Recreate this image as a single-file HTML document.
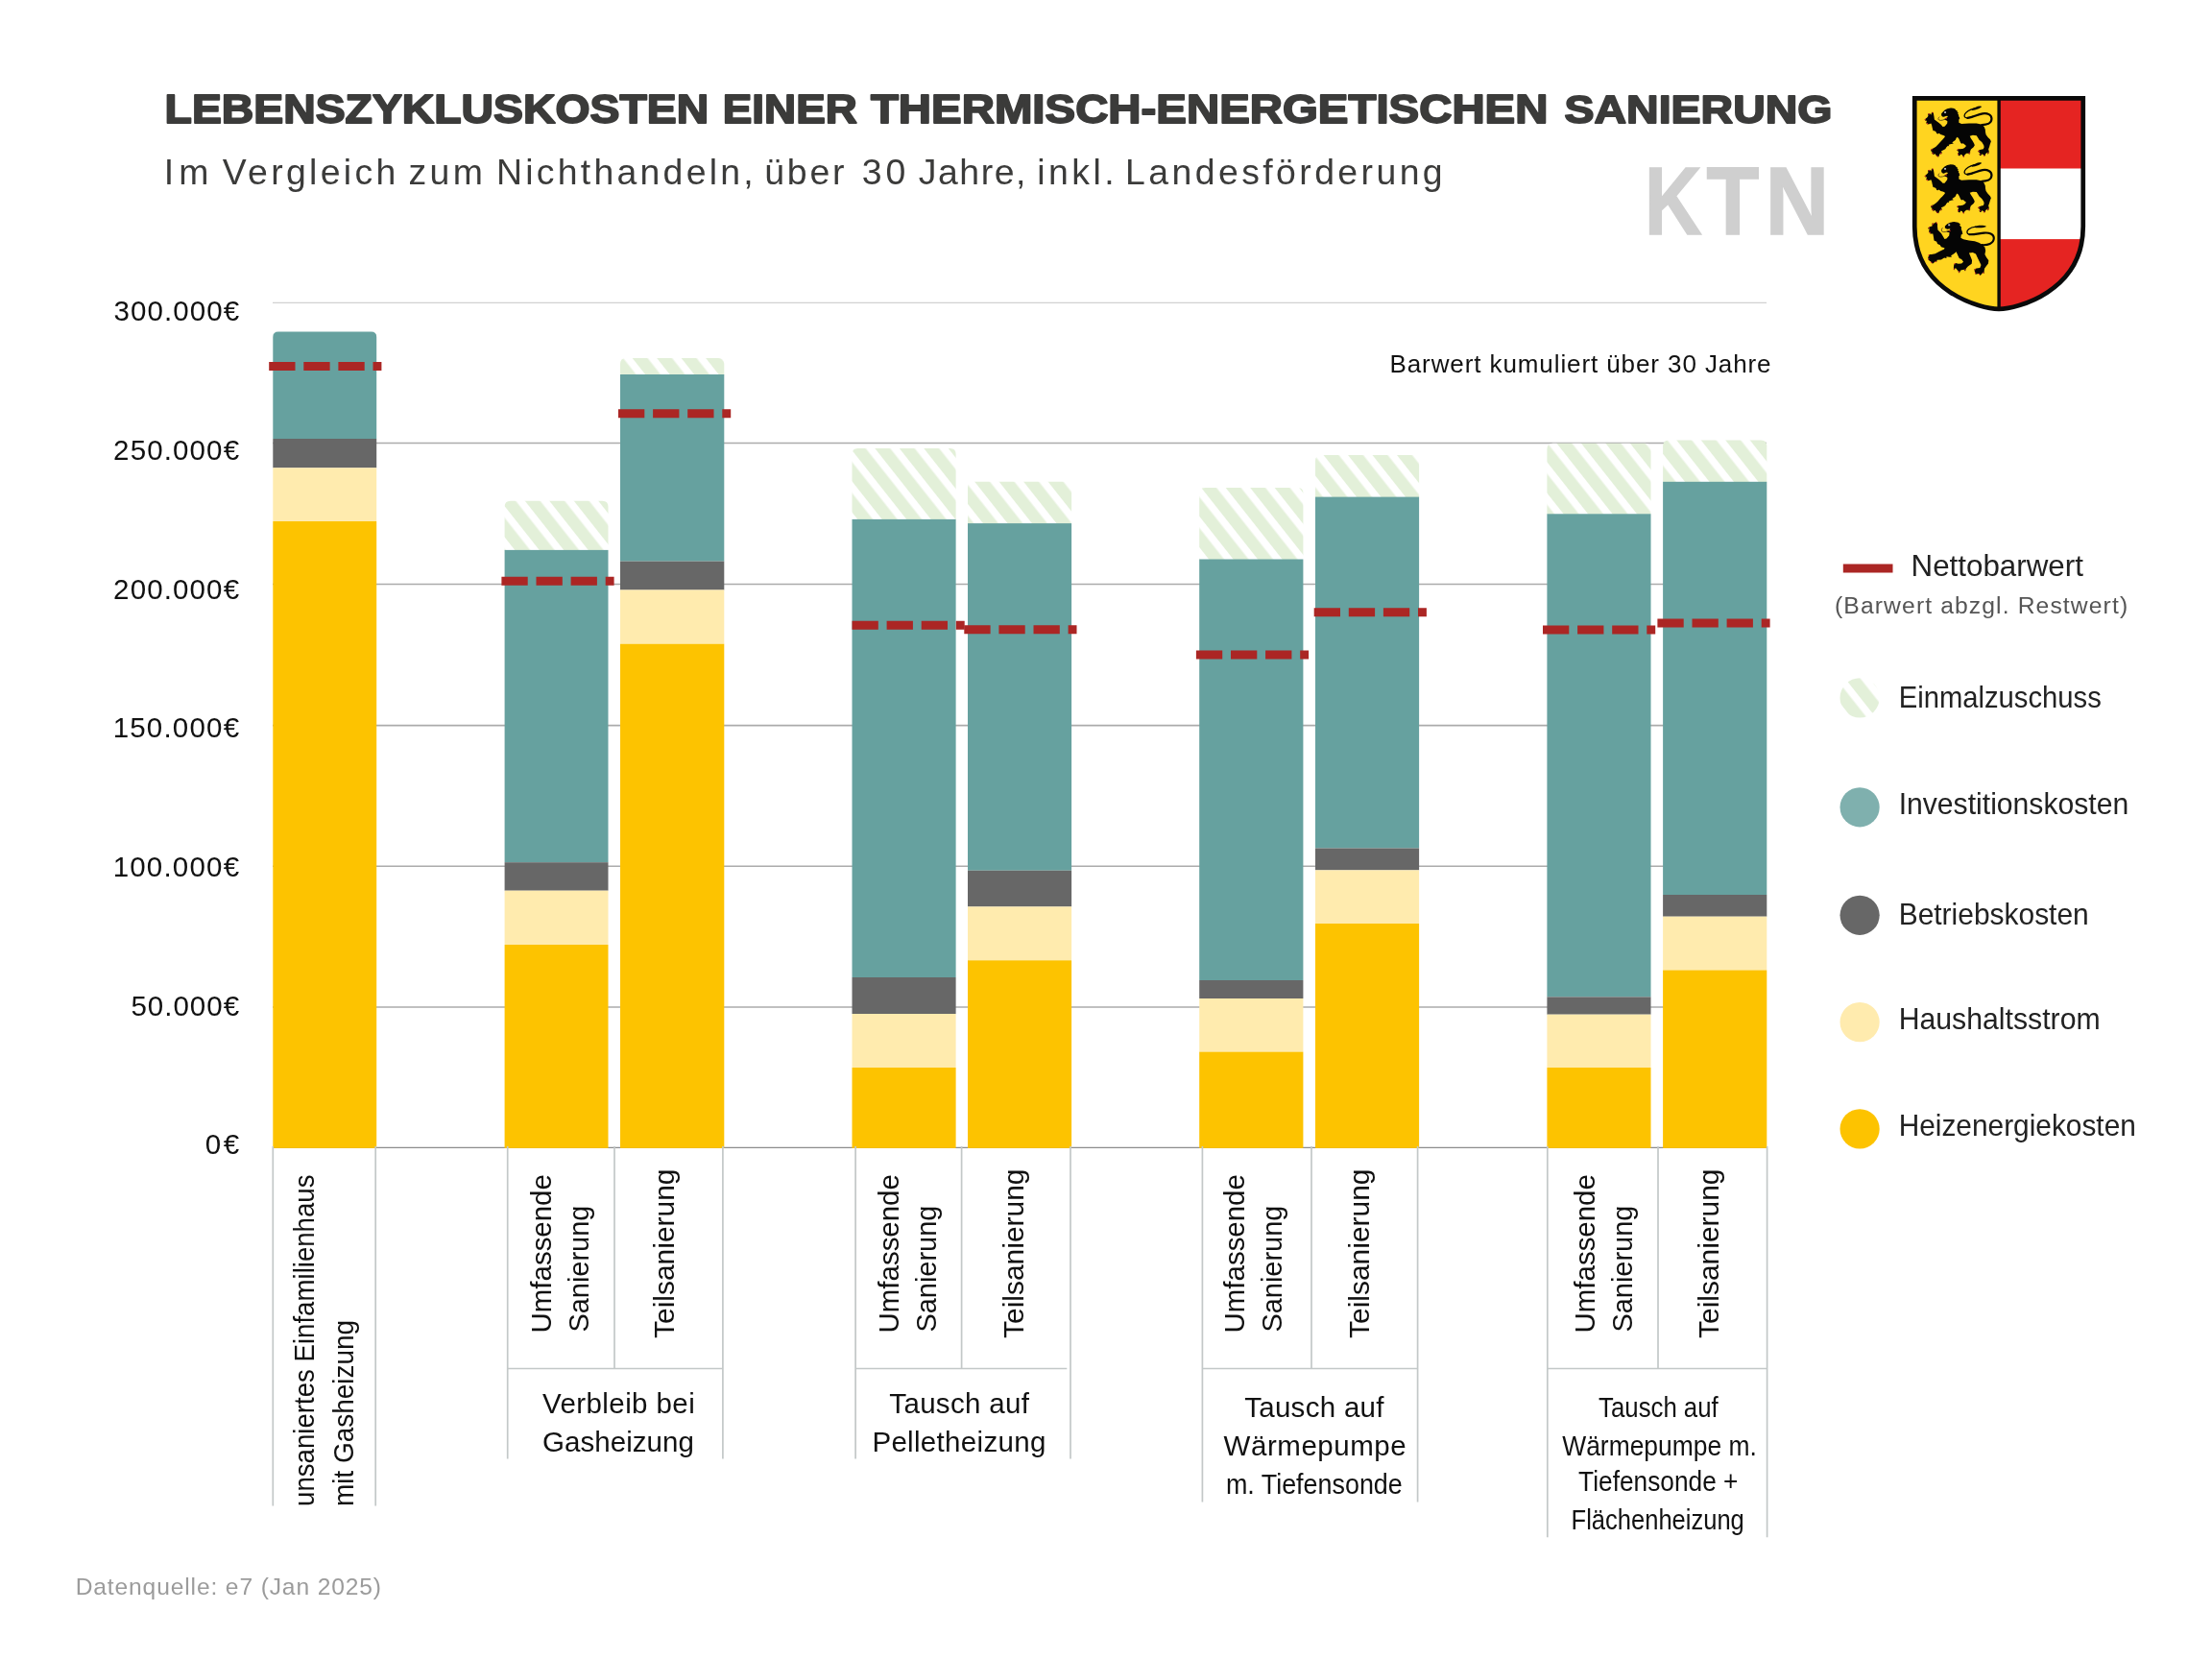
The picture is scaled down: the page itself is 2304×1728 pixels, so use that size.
<!DOCTYPE html>
<html lang="de"><head><meta charset="utf-8"><title>Lebenszykluskosten KTN</title>
<style>html,body{margin:0;padding:0;background:#fff}svg{display:block;will-change:transform}text{font-family:"Liberation Sans",sans-serif;white-space:pre}</style>
</head><body>
<svg width="2304" height="1728" viewBox="0 0 2304 1728">
<defs>
<pattern id="h0" width="20" height="20" patternUnits="userSpaceOnUse" patternTransform="translate(13.0,0) rotate(-38.3)"><rect width="20" height="20" fill="#fff"/><rect x="0" y="0" width="12.5" height="20" fill="#E3F0D9"/></pattern>
<pattern id="h1" width="20" height="20" patternUnits="userSpaceOnUse" patternTransform="translate(7.3,0) rotate(-38.3)"><rect width="20" height="20" fill="#fff"/><rect x="0" y="0" width="12.5" height="20" fill="#E3F0D9"/></pattern>
<pattern id="h2" width="20" height="20" patternUnits="userSpaceOnUse" patternTransform="translate(7.3,0) rotate(-38.3)"><rect width="20" height="20" fill="#fff"/><rect x="0" y="0" width="12.5" height="20" fill="#E3F0D9"/></pattern>
<pattern id="h3" width="20" height="20" patternUnits="userSpaceOnUse" patternTransform="translate(7.3,0) rotate(-38.3)"><rect width="20" height="20" fill="#fff"/><rect x="0" y="0" width="12.5" height="20" fill="#E3F0D9"/></pattern>
<pattern id="h4" width="20" height="20" patternUnits="userSpaceOnUse" patternTransform="translate(7.3,0) rotate(-38.3)"><rect width="20" height="20" fill="#fff"/><rect x="0" y="0" width="12.5" height="20" fill="#E3F0D9"/></pattern>
<pattern id="h5" width="20" height="20" patternUnits="userSpaceOnUse" patternTransform="translate(9.0,0) rotate(-38.3)"><rect width="20" height="20" fill="#fff"/><rect x="0" y="0" width="12.5" height="20" fill="#E3F0D9"/></pattern>
<pattern id="h6" width="20" height="20" patternUnits="userSpaceOnUse" patternTransform="translate(10.3,0) rotate(-38.3)"><rect width="20" height="20" fill="#fff"/><rect x="0" y="0" width="12.5" height="20" fill="#E3F0D9"/></pattern>
<pattern id="h7" width="20" height="20" patternUnits="userSpaceOnUse" patternTransform="translate(8.0,0) rotate(-38.3)"><rect width="20" height="20" fill="#fff"/><rect x="0" y="0" width="12.5" height="20" fill="#E3F0D9"/></pattern>
<pattern id="h8" width="20" height="20" patternUnits="userSpaceOnUse" patternTransform="translate(8.0,0) rotate(-38.3)"><rect width="20" height="20" fill="#fff"/><rect x="0" y="0" width="12.5" height="20" fill="#E3F0D9"/></pattern>
</defs>
<rect width="2304" height="1728" fill="#fff"/>
<text transform="translate(171.60,127.8) scale(1.1146,1)" font-size="41.6" fill="#3b3b3a" font-weight="700" stroke="#3b3b3a" stroke-width="1.8" stroke-linejoin="round">LEBENSZYKLUSKOSTEN</text>
<text transform="translate(752.84,127.8) scale(1.1007,1)" font-size="41.6" fill="#3b3b3a" font-weight="700" stroke="#3b3b3a" stroke-width="1.8" stroke-linejoin="round">EINER</text>
<text transform="translate(906.90,127.8) scale(1.1395,1)" font-size="41.6" fill="#3b3b3a" font-weight="700" stroke="#3b3b3a" stroke-width="1.8" stroke-linejoin="round">THERMISCH-ENERGETISCHEN</text>
<text transform="translate(1629.47,127.8) scale(1.1180,1)" font-size="41.6" fill="#3b3b3a" font-weight="700" stroke="#3b3b3a" stroke-width="1.8" stroke-linejoin="round">SANIERUNG</text>
<text x="170.68" y="191.6" font-size="37.4" fill="#3b3b3a" letter-spacing="5.212">Im</text>
<text x="231.80" y="191.6" font-size="37.4" fill="#3b3b3a" letter-spacing="3.331">Vergleich</text>
<text x="425.43" y="191.6" font-size="37.4" fill="#3b3b3a" letter-spacing="3.375">zum</text>
<text x="516.98" y="191.6" font-size="37.4" fill="#3b3b3a" letter-spacing="3.259">Nichthandeln,</text>
<text x="796.16" y="191.6" font-size="37.4" fill="#3b3b3a" letter-spacing="2.855">über</text>
<text x="897.83" y="191.6" font-size="37.4" fill="#3b3b3a" letter-spacing="3.900">30</text>
<text x="956.72" y="191.6" font-size="37.4" fill="#3b3b3a" letter-spacing="1.567">Jahre,</text>
<text x="1080.26" y="191.6" font-size="37.4" fill="#3b3b3a" letter-spacing="3.502">inkl.</text>
<text x="1172.08" y="191.6" font-size="37.4" fill="#3b3b3a" letter-spacing="3.416">Landesförderung</text>
<text transform="translate(1713.05,243.9) scale(0.8294,1)" font-size="99.4" fill="#cfcfcf" font-weight="700" stroke="#cfcfcf" stroke-width="1.6">K</text>
<text transform="translate(1777.60,243.9) scale(0.9014,1)" font-size="99.4" fill="#cfcfcf" font-weight="700" stroke="#cfcfcf" stroke-width="1.6">T</text>
<text transform="translate(1838.75,243.9) scale(0.9251,1)" font-size="99.4" fill="#cfcfcf" font-weight="700" stroke="#cfcfcf" stroke-width="1.6">N</text>
<g stroke="#ababab" stroke-width="1.6">
<line x1="284" x2="1840" y1="315.3" y2="315.3" stroke="#c6c6c6" stroke-width="1"/>
<line x1="284" x2="1840" y1="461.5" y2="461.5"/>
<line x1="284" x2="1840" y1="608.5" y2="608.5"/>
<line x1="284" x2="1840" y1="755.6" y2="755.6"/>
<line x1="284" x2="1840" y1="902.3" y2="902.3"/>
<line x1="284" x2="1840" y1="1049.0" y2="1049.0"/>
<line x1="284" x2="1840" y1="1195.3" y2="1195.3" stroke="#8c8c8c" stroke-width="1.3"/>
</g>
<text x="118.58" y="334.2" font-size="29.5" fill="#111" letter-spacing="1.065">300.000€</text>
<text x="118.12" y="479.2" font-size="29.5" fill="#111" letter-spacing="1.131">250.000€</text>
<text x="118.12" y="623.8" font-size="29.5" fill="#111" letter-spacing="1.131">200.000€</text>
<text x="117.66" y="768.3" font-size="29.5" fill="#111" letter-spacing="1.197">150.000€</text>
<text x="117.66" y="912.8" font-size="29.5" fill="#111" letter-spacing="1.197">100.000€</text>
<text x="136.38" y="1057.6" font-size="29.5" fill="#111" letter-spacing="1.010">50.000€</text>
<text x="213.68" y="1202.3" font-size="29.5" fill="#111" letter-spacing="2.583">0€</text>
<path d="M284.3,457.0 V351.1 Q284.3,345.6 289.8,345.6 H386.7 Q392.2,345.6 392.2,351.1 V457.0 Z" fill="#66A19F"/>
<rect x="284.3" y="457.0" width="107.9" height="30.3" fill="#676767"/>
<rect x="284.3" y="487.3" width="107.9" height="55.7" fill="#FFEBAE"/>
<rect x="284.3" y="543.0" width="107.9" height="652.9" fill="#FDC300"/>
<path d="M525.6,573.4 V527.7 Q525.6,521.7 531.6,521.7 H627.5 Q633.5,521.7 633.5,527.7 V573.4 Z" fill="url(#h1)"/>
<rect x="525.6" y="572.9" width="107.9" height="325.3" fill="#66A19F"/>
<rect x="525.6" y="898.2" width="107.9" height="29.5" fill="#676767"/>
<rect x="525.6" y="927.7" width="107.9" height="56.3" fill="#FFEBAE"/>
<rect x="525.6" y="984.0" width="107.9" height="211.9" fill="#FDC300"/>
<path d="M646.0,390.5 V378.9 Q646.0,372.9 652.0,372.9 H748.3 Q754.3,372.9 754.3,378.9 V390.5 Z" fill="url(#h2)"/>
<rect x="646.0" y="390.0" width="108.3" height="194.6" fill="#66A19F"/>
<rect x="646.0" y="584.6" width="108.3" height="29.9" fill="#676767"/>
<rect x="646.0" y="614.5" width="108.3" height="56.2" fill="#FFEBAE"/>
<rect x="646.0" y="670.7" width="108.3" height="525.2" fill="#FDC300"/>
<path d="M887.5,541.4 V472.9 Q887.5,466.9 893.5,466.9 H989.6 Q995.6,466.9 995.6,472.9 V541.4 Z" fill="url(#h3)"/>
<rect x="887.5" y="540.9" width="108.1" height="477.1" fill="#66A19F"/>
<rect x="887.5" y="1018.0" width="108.1" height="38.0" fill="#676767"/>
<rect x="887.5" y="1056.0" width="108.1" height="56.0" fill="#FFEBAE"/>
<rect x="887.5" y="1112.0" width="108.1" height="83.9" fill="#FDC300"/>
<path d="M1008.0,545.6 V507.7 Q1008.0,501.7 1014.0,501.7 H1110.1 Q1116.1,501.7 1116.1,507.7 V545.6 Z" fill="url(#h4)"/>
<rect x="1008.0" y="545.1" width="108.1" height="361.6" fill="#66A19F"/>
<rect x="1008.0" y="906.7" width="108.1" height="37.7" fill="#676767"/>
<rect x="1008.0" y="944.4" width="108.1" height="55.9" fill="#FFEBAE"/>
<rect x="1008.0" y="1000.3" width="108.1" height="195.6" fill="#FDC300"/>
<path d="M1249.2,583.0 V513.9 Q1249.2,507.9 1255.2,507.9 H1351.4 Q1357.4,507.9 1357.4,513.9 V583.0 Z" fill="url(#h5)"/>
<rect x="1249.2" y="582.5" width="108.2" height="438.5" fill="#66A19F"/>
<rect x="1249.2" y="1021.0" width="108.2" height="19.0" fill="#676767"/>
<rect x="1249.2" y="1040.0" width="108.2" height="55.6" fill="#FFEBAE"/>
<rect x="1249.2" y="1095.6" width="108.2" height="100.3" fill="#FDC300"/>
<path d="M1370.0,518.1 V479.9 Q1370.0,473.9 1376.0,473.9 H1472.1 Q1478.1,473.9 1478.1,479.9 V518.1 Z" fill="url(#h6)"/>
<rect x="1370.0" y="517.6" width="108.1" height="365.9" fill="#66A19F"/>
<rect x="1370.0" y="883.5" width="108.1" height="22.9" fill="#676767"/>
<rect x="1370.0" y="906.4" width="108.1" height="55.6" fill="#FFEBAE"/>
<rect x="1370.0" y="962.0" width="108.1" height="233.9" fill="#FDC300"/>
<path d="M1611.4,535.8 V467.7 Q1611.4,461.7 1617.4,461.7 H1713.5 Q1719.5,461.7 1719.5,467.7 V535.8 Z" fill="url(#h7)"/>
<rect x="1611.4" y="535.3" width="108.1" height="503.1" fill="#66A19F"/>
<rect x="1611.4" y="1038.4" width="108.1" height="18.3" fill="#676767"/>
<rect x="1611.4" y="1056.7" width="108.1" height="55.3" fill="#FFEBAE"/>
<rect x="1611.4" y="1112.0" width="108.1" height="83.9" fill="#FDC300"/>
<path d="M1732.1,502.3 V464.6 Q1732.1,458.6 1738.1,458.6 H1834.3 Q1840.3,458.6 1840.3,464.6 V502.3 Z" fill="url(#h8)"/>
<rect x="1732.1" y="501.8" width="108.2" height="430.2" fill="#66A19F"/>
<rect x="1732.1" y="932.0" width="108.2" height="22.7" fill="#676767"/>
<rect x="1732.1" y="954.7" width="108.2" height="55.8" fill="#FFEBAE"/>
<rect x="1732.1" y="1010.5" width="108.2" height="185.4" fill="#FDC300"/>
<line x1="280.2" x2="397.4" y1="381.6" y2="381.6" stroke="#AB2624" stroke-width="9" stroke-dasharray="27.3 8.8"/>
<line x1="522.4" x2="639.6" y1="605.3" y2="605.3" stroke="#AB2624" stroke-width="9" stroke-dasharray="27.3 8.8"/>
<line x1="644.0" x2="761.2" y1="430.7" y2="430.7" stroke="#AB2624" stroke-width="9" stroke-dasharray="27.3 8.8"/>
<line x1="887.5" x2="1004.7" y1="651.2" y2="651.2" stroke="#AB2624" stroke-width="9" stroke-dasharray="27.3 8.8"/>
<line x1="1004.3" x2="1121.5" y1="655.7" y2="655.7" stroke="#AB2624" stroke-width="9" stroke-dasharray="27.3 8.8"/>
<line x1="1245.9" x2="1363.1000000000001" y1="682.1" y2="682.1" stroke="#AB2624" stroke-width="9" stroke-dasharray="27.3 8.8"/>
<line x1="1368.7" x2="1485.9" y1="637.7" y2="637.7" stroke="#AB2624" stroke-width="9" stroke-dasharray="27.3 8.8"/>
<line x1="1607.0" x2="1724.2" y1="655.9" y2="655.9" stroke="#AB2624" stroke-width="9" stroke-dasharray="27.3 8.8"/>
<line x1="1726.4" x2="1843.6000000000001" y1="649.0" y2="649.0" stroke="#AB2624" stroke-width="9" stroke-dasharray="27.3 8.8"/>
<text x="1447.47" y="388.4" font-size="26" fill="#111" letter-spacing="0.905">Barwert kumuliert über 30 Jahre</text>
<g stroke="#C3C8C8" stroke-width="1.7" fill="none">
<path d="M284.3,1194.0 V1568.5 M391.2,1194.0 V1568.5"/>
<path d="M528.7,1194.0 V1519.5 M752.9,1194.0 V1519.5 M640.0,1194.0 V1425.5 M528.7,1425.5 H752.9"/>
<path d="M891.1,1194.0 V1519.6 M1115.0,1194.0 V1519.6 M1001.6,1194.0 V1425.5 M891.1,1425.5 H1111.3"/>
<path d="M1252.4,1194.0 V1564.6 M1476.6,1194.0 V1564.6 M1366.0,1194.0 V1425.5 M1252.4,1425.5 H1476.6"/>
<path d="M1611.8,1194.0 V1601.3 M1840.6,1194.0 V1601.3 M1727.0,1194.0 V1425.5 M1611.8,1425.5 H1840.6"/>
</g>
<text transform="translate(327.4,1568.93) rotate(-90) scale(0.9210,1)" font-size="30" fill="#111">unsaniertes Einfamilienhaus</text>
<text transform="translate(368.3,1568.95) rotate(-90) scale(0.9313,1)" font-size="30" fill="#111">mit Gasheizung</text>
<text transform="translate(573.9,1388.44) rotate(-90) scale(0.9817,1)" font-size="30" fill="#111">Umfassende</text>
<text transform="translate(612.5,1387.50) rotate(-90) scale(0.9638,1)" font-size="30" fill="#111">Sanierung</text>
<text transform="translate(701.5,1393.97) rotate(-90) scale(0.9987,1)" font-size="30" fill="#111">Teilsanierung</text>
<text transform="translate(935.8,1388.44) rotate(-90) scale(0.9817,1)" font-size="30" fill="#111">Umfassende</text>
<text transform="translate(975.1,1387.50) rotate(-90) scale(0.9638,1)" font-size="30" fill="#111">Sanierung</text>
<text transform="translate(1066.0,1393.97) rotate(-90) scale(0.9987,1)" font-size="30" fill="#111">Teilsanierung</text>
<text transform="translate(1295.9,1388.44) rotate(-90) scale(0.9817,1)" font-size="30" fill="#111">Umfassende</text>
<text transform="translate(1334.9,1387.50) rotate(-90) scale(0.9638,1)" font-size="30" fill="#111">Sanierung</text>
<text transform="translate(1425.9,1393.97) rotate(-90) scale(0.9987,1)" font-size="30" fill="#111">Teilsanierung</text>
<text transform="translate(1660.6,1388.44) rotate(-90) scale(0.9817,1)" font-size="30" fill="#111">Umfassende</text>
<text transform="translate(1699.8,1387.50) rotate(-90) scale(0.9638,1)" font-size="30" fill="#111">Sanierung</text>
<text transform="translate(1790.2,1393.97) rotate(-90) scale(0.9987,1)" font-size="30" fill="#111">Teilsanierung</text>
<text x="565.00" y="1472.3" font-size="29.5" fill="#111" letter-spacing="0.416">Verbleib bei</text>
<text x="565.02" y="1512.2" font-size="29.5" fill="#111" letter-spacing="0.044">Gasheizung</text>
<text x="926.34" y="1471.9" font-size="29.5" fill="#111" letter-spacing="0.321">Tausch auf</text>
<text x="908.40" y="1511.6" font-size="29.5" fill="#111" letter-spacing="0.319">Pelletheizung</text>
<text x="1296.14" y="1476.2" font-size="29.5" fill="#111" letter-spacing="0.298">Tausch auf</text>
<text x="1274.60" y="1516.2" font-size="29.5" fill="#111" letter-spacing="0.538">Wärmepumpe</text>
<text transform="translate(1276.92,1556.4) scale(0.9117,1)" font-size="29.5" fill="#111">m. Tiefensonde</text>
<text transform="translate(1665.10,1476.2) scale(0.8734,1)" font-size="29.5" fill="#111">Tausch auf</text>
<text transform="translate(1627.20,1516.2) scale(0.8960,1)" font-size="29.5" fill="#111">Wärmepumpe m.</text>
<text transform="translate(1644.09,1553.2) scale(0.8912,1)" font-size="29.5" fill="#111">Tiefensonde +</text>
<text transform="translate(1636.61,1593.1) scale(0.8653,1)" font-size="29.5" fill="#111">Flächenheizung</text>
<line x1="1919.8" x2="1971.5" y1="592" y2="592" stroke="#AB2624" stroke-width="9"/>
<text transform="translate(1990.55,600.2) scale(0.9790,1)" font-size="32" fill="#222">Nettobarwert</text>
<text x="1911.04" y="638.5" font-size="24.7" fill="#555" letter-spacing="1.108">(Barwert abzgl. Restwert)</text>
<text transform="translate(1977.72,736.7) scale(0.9135,1)" font-size="32" fill="#222">Einmalzuschuss</text>
<text transform="translate(1977.64,848.3) scale(0.9426,1)" font-size="32" fill="#222">Investitionskosten</text>
<text transform="translate(1977.66,963.1) scale(0.9360,1)" font-size="32" fill="#222">Betriebskosten</text>
<text transform="translate(1977.64,1071.8) scale(0.9453,1)" font-size="32" fill="#222">Haushaltsstrom</text>
<text transform="translate(1977.67,1183.0) scale(0.9327,1)" font-size="32" fill="#222">Heizenergiekosten</text>
<circle cx="1937.1" cy="726.9" r="20.6" fill="url(#h0)"/>
<circle cx="1937.1" cy="840.8" r="20.6" fill="#7FB0AE"/>
<circle cx="1937.1" cy="953.3" r="20.6" fill="#676767"/>
<circle cx="1937.1" cy="1064.6" r="20.6" fill="#FFEBAE"/>
<circle cx="1937.1" cy="1175.9" r="20.6" fill="#FDC300"/>
<text x="78.68" y="1660.5" font-size="24.6" fill="#9b9b9b" letter-spacing="0.865">Datenquelle: e7 (Jan 2025)</text>
<defs><g id="lion"><path d="M810,190 L880,195 L930,215 L950,250 L990,270 L985,300 L1015,315 L1000,345 L1030,380 L1020,410 L1050,440 L1040,465 L1060,475 L1030,495 L1030,580 L1100,610 L1300,598 L1500,600 L1650,630 L1700,690 L1730,760 L1735,830 L1750,900 L1800,970 L1860,1030 L1885,1080 L1860,1150 L1840,1220 L1815,1290 L1830,1340 L1825,1390 L1800,1420 L1780,1380 L1740,1410 L1730,1460 L1700,1470 L1680,1440 L1650,1410 L1620,1450 L1590,1460 L1570,1420 L1590,1380 L1560,1370 L1535,1340 L1570,1310 L1620,1295 L1680,1280 L1700,1230 L1690,1180 L1640,1100 L1570,1040 L1540,990 L1500,925 L1400,915 L1320,940 L1350,1000 L1390,1060 L1430,1130 L1450,1180 L1420,1230 L1350,1290 L1330,1340 L1330,1400 L1300,1430 L1290,1400 L1230,1400 L1180,1440 L1170,1500 L1140,1480 L1120,1440 L1080,1420 L1050,1470 L1010,1450 L1000,1400 L1030,1350 L1000,1340 L975,1310 L1010,1280 L1050,1285 L1130,1275 L1180,1250 L1225,1200 L1190,1170 L1140,1130 L1110,1140 L1080,1120 L1050,1060 L1030,1010 L990,965 L960,990 L940,1040 L900,1070 L850,1105 L890,1135 L820,1150 L760,1170 L770,1215 L740,1190 L700,1230 L670,1280 L620,1310 L560,1340 L580,1380 L560,1420 L530,1400 L510,1440 L490,1490 L440,1480 L420,1440 L400,1410 L350,1430 L310,1390 L320,1350 L290,1340 L285,1300 L310,1275 L350,1265 L420,1220 L470,1170 L540,1090 L600,1030 L660,960 L650,930 L600,910 L545,895 L500,860 L470,880 L440,870 L420,820 L380,800 L345,795 L335,760 L320,700 L310,650 L290,600 L240,620 L200,625 L160,595 L165,570 L180,530 L140,530 L120,500 L150,470 L190,440 L215,400 L205,350 L235,335 L270,345 L290,375 L300,330 L315,300 L350,310 L355,340 L370,420 L380,500 L440,545 L500,590 L560,640 L600,690 L650,685 L680,650 L720,600 L725,540 L700,520 L640,500 L660,470 L700,450 L735,430 L720,400 L680,410 L630,430 L590,420 L565,390 L565,340 L600,300 L650,250 L720,210 Z" fill="#050505"/><path d="M1640,640 C1760,640 1900,600 1900,480 C1900,370 1790,320 1660,340 C1520,365 1400,440 1260,455" fill="none" stroke="#050505" stroke-width="56" stroke-linecap="round"/><path d="M1400,420 C1350,440 1300,452 1260,455 C1180,460 1160,410 1190,350 C1230,280 1340,230 1440,200" fill="none" stroke="#050505" stroke-width="34" stroke-linecap="round"/><path d="M1370,235 C1450,170 1560,115 1635,150 C1610,200 1480,235 1380,255 Z" fill="#050505"/><path d="M700,470 C640,500 560,540 500,510 C470,490 480,450 510,430" fill="none" stroke="#4a3510" stroke-width="20" stroke-linecap="round"/><circle cx="235" cy="350" r="17" fill="#e0242a"/><circle cx="335" cy="315" r="17" fill="#e0242a"/><circle cx="135" cy="500" r="17" fill="#e0242a"/><circle cx="190" cy="605" r="17" fill="#e0242a"/><circle cx="310" cy="1295" r="17" fill="#e0242a"/><circle cx="335" cy="1395" r="17" fill="#e0242a"/><circle cx="455" cy="1465" r="17" fill="#e0242a"/><circle cx="552" cy="1398" r="17" fill="#e0242a"/><circle cx="1005" cy="1300" r="17" fill="#e0242a"/><circle cx="1012" cy="1420" r="17" fill="#e0242a"/><circle cx="1152" cy="1478" r="17" fill="#e0242a"/><circle cx="1308" cy="1385" r="17" fill="#e0242a"/><circle cx="1560" cy="1338" r="17" fill="#e0242a"/><circle cx="1590" cy="1418" r="17" fill="#e0242a"/><circle cx="1702" cy="1452" r="17" fill="#e0242a"/><circle cx="1802" cy="1380" r="17" fill="#e0242a"/><circle cx="690" cy="470" r="17" fill="#e0242a"/><rect x="640" y="285" width="50" height="45" fill="#b9b9b9"/></g><g id="lion3"><path d="M900,150 L1010,175 L1070,220 L1050,250 L1100,300 L1090,340 L1120,420 L1130,480 L1090,500 L1080,580 L1150,620 L1300,650 L1450,670 L1560,710 L1650,760 L1720,830 L1740,920 L1720,1020 L1760,1100 L1820,1180 L1810,1260 L1760,1330 L1710,1400 L1700,1480 L1700,1540 L1670,1500 L1600,1580 L1560,1530 L1470,1550 L1450,1480 L1440,1410 L1500,1390 L1590,1380 L1620,1300 L1570,1200 L1520,1100 L1480,1010 L1400,970 L1300,980 L1340,1080 L1380,1180 L1370,1270 L1270,1340 L1220,1400 L1200,1470 L1160,1420 L1080,1440 L1040,1520 L1000,1450 L940,1380 L900,1440 L890,1370 L900,1290 L940,1250 L1020,1270 L1100,1260 L1150,1220 L1100,1150 L1040,1120 L1000,1040 L960,950 L900,1000 L820,1050 L840,1090 L780,1090 L700,1080 L700,1120 L640,1110 L560,1160 L450,1170 L440,1220 L400,1210 L330,1270 L290,1220 L220,1170 L210,1110 L240,1020 L300,1020 L400,1000 L520,940 L640,880 L650,850 L560,820 L530,770 L460,740 L440,680 L370,650 L360,580 L340,470 L270,470 L230,410 L250,350 L200,330 L250,290 L320,270 L320,190 L370,200 L420,160 L460,200 L460,290 L470,370 L560,460 L620,560 L650,610 L700,600 L770,520 L780,440 L720,430 L700,400 L780,380 L800,340 L720,350 L660,320 L660,270 L720,210 L800,170 Z" fill="#050505"/><path d="M1650,770 C1780,780 1960,740 1960,590 C1960,470 1830,440 1700,450 C1560,465 1400,500 1310,490" fill="none" stroke="#050505" stroke-width="54" stroke-linecap="round"/><path d="M1450,482 C1400,492 1350,495 1310,490 C1230,480 1230,400 1290,350 C1340,310 1420,290 1480,285" fill="none" stroke="#050505" stroke-width="34" stroke-linecap="round"/><path d="M1420,300 C1500,245 1690,235 1760,280 C1700,320 1520,325 1420,300 Z" fill="#050505"/><path d="M790,390 C700,420 620,440 580,410 C560,380 570,340 590,320" fill="none" stroke="#4a3510" stroke-width="20" stroke-linecap="round"/><circle cx="240" cy="310" r="17" fill="#e0242a"/><circle cx="340" cy="210" r="17" fill="#e0242a"/><circle cx="440" cy="185" r="17" fill="#e0242a"/><circle cx="260" cy="440" r="17" fill="#e0242a"/><circle cx="235" cy="1040" r="17" fill="#e0242a"/><circle cx="225" cy="1140" r="17" fill="#e0242a"/><circle cx="300" cy="1235" r="17" fill="#e0242a"/><circle cx="410" cy="1215" r="17" fill="#e0242a"/><circle cx="920" cy="1270" r="17" fill="#e0242a"/><circle cx="900" cy="1410" r="17" fill="#e0242a"/><circle cx="1030" cy="1480" r="17" fill="#e0242a"/><circle cx="1195" cy="1425" r="17" fill="#e0242a"/><circle cx="1460" cy="1420" r="17" fill="#e0242a"/><circle cx="1470" cy="1510" r="17" fill="#e0242a"/><circle cx="1570" cy="1545" r="17" fill="#e0242a"/><circle cx="1680" cy="1510" r="17" fill="#e0242a"/><circle cx="790" cy="395" r="17" fill="#e0242a"/><rect x="745" y="215" width="50" height="45" fill="#b9b9b9"/></g><clipPath id="shclip"><path d="M1994.25,102.3 H2169.75 V236 C2169.75,304 2100,321.85 2082,321.85 C2064,321.85 1994.25,304 1994.25,236 Z"/></clipPath></defs>
<g clip-path="url(#shclip)">
<rect x="1990" y="98" width="92" height="230" fill="#FFD420"/>
<rect x="2082" y="98" width="92" height="230" fill="#E52422"/>
<rect x="2082" y="175.5" width="92" height="73.6" fill="#fff"/>
</g>
<line x1="2082.1" x2="2082.1" y1="101" y2="322" stroke="#0a0a0a" stroke-width="3.4"/>
<path d="M1994.25,102.3 H2169.75 V236 C2169.75,304 2100,321.85 2082,321.85 C2064,321.85 1994.25,304 1994.25,236 Z" fill="none" stroke="#0a0a0a" stroke-width="4.7" stroke-linejoin="miter"/>
<use href="#lion" transform="translate(2000,105) scale(0.03919)"/>
<use href="#lion" transform="translate(2000,163.8) scale(0.03919)"/>
<use href="#lion3" transform="translate(2000,225) scale(0.03919)"/>
</svg></body></html>
